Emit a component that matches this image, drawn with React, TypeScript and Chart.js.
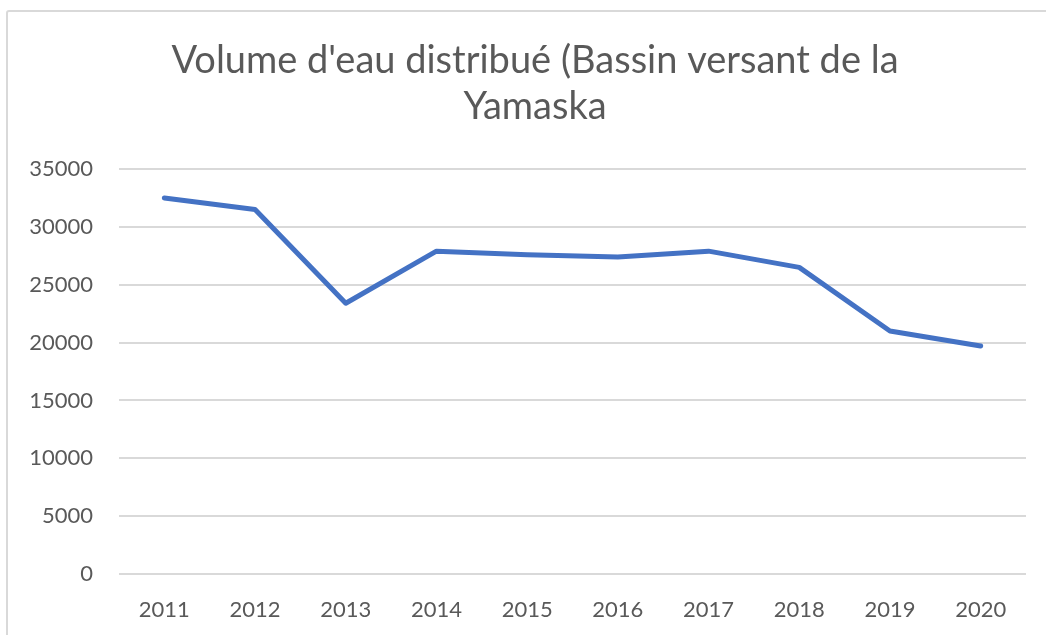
import React, { useEffect, useRef } from "react";
import { Chart, registerables } from "chart.js";

Chart.register(...registerables);

const years = ["2011", "2012", "2013", "2014", "2015", "2016", "2017", "2018", "2019", "2020"];
const volumes = [32500, 31500, 23400, 27900, 27600, 27400, 27900, 26500, 21000, 19700];
const titleLines = ["Volume d'eau distribué (Bassin versant de la", "Yamaska"];
const yMin = 0;
const yMax = 35000;
const yStep = 5000;

const textColor = "#595959";

const titlePlugin = {
  id: "offsetTitle",
  afterDraw(chart: any) {
    const ctx = chart.ctx;
    ctx.save();
    ctx.fillStyle = textColor;
    ctx.font = "normal 38px Lato";
    ctx.textAlign = "center";
    ctx.textBaseline = "alphabetic";
    titleLines.forEach((line, i) => {
      ctx.fillText(line, 535, 73 + i * 46);
    });
    ctx.restore();
  },
};

export default function App() {
  const canvasRef = useRef<HTMLCanvasElement | null>(null);

  useEffect(() => {
    if (!canvasRef.current) return;
    const chart = new Chart(canvasRef.current, {
      type: "line",
      data: {
        labels: years,
        datasets: [
          {
            data: volumes,
            borderColor: "#4472C4",
            backgroundColor: "#4472C4",
            borderWidth: 5,
            pointRadius: 0,
            tension: 0,
            borderCapStyle: "round",
            borderJoinStyle: "round",
          },
        ],
      },
      options: {
        animation: false,
        responsive: false,
        maintainAspectRatio: false,
        layout: { padding: { left: 0, right: 20, top: 169, bottom: 0 } },
        plugins: {
          legend: { display: false },
          tooltip: { enabled: false },
          title: { display: false },
        },
        scales: {
          x: {
            offset: true,
            grid: { display: false, drawTicks: false },
            border: { display: false },
            ticks: {
              color: textColor,
              font: { family: "Lato", size: 22 },
              padding: 23,
              maxRotation: 0,
            },
            afterFit: (s: any) => {
              s.height = 61;
            },
          },
          y: {
            min: yMin,
            max: yMax,
            grid: { color: "#d9d9d9", lineWidth: 2, drawTicks: false },
            border: { display: false },
            ticks: {
              stepSize: yStep,
              color: textColor,
              font: { family: "Lato", size: 22 },
              padding: 26,
              callback: (v: any) => String(v),
            },
            afterFit: (s: any) => {
              s.width = 119;
            },
          },
        },
      },
      plugins: [titlePlugin],
    });
    return () => chart.destroy();
  }, []);

  return (
    <div
      style={{
        position: "fixed",
        left: 0,
        top: 0,
        width: 1046,
        height: 635,
        overflow: "hidden",
        background: "#ffffff",
      }}
    >
      <div
        style={{
          position: "absolute",
          left: 6,
          top: 10,
          width: 1200,
          height: 800,
          border: "2px solid #d9d9d9",
          borderRadius: 3,
          boxSizing: "border-box",
        }}
      />
      <canvas
        ref={canvasRef}
        width={1046}
        height={635}
        style={{ position: "absolute", left: 0, top: 0, width: 1046, height: 635 }}
      />
    </div>
  );
}
